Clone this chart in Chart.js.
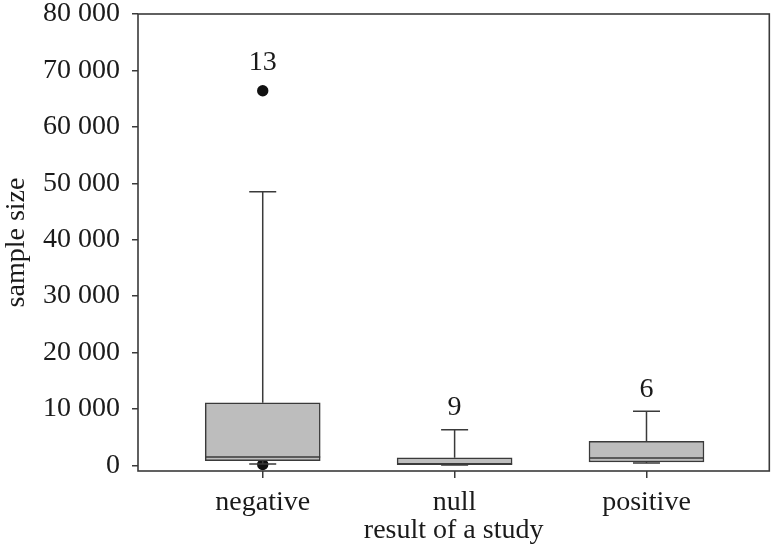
<!DOCTYPE html>
<html>
<head>
<meta charset="utf-8">
<script src="https://cdn.jsdelivr.net/npm/chart.js@4.4.1/dist/chart.umd.min.js"></script>
<style>
  html, body { margin: 0; padding: 0; background: #fff; }
  #wrap { width: 775px; height: 554px; }
</style>
</head>
<body>
<div id="wrap"><canvas id="chart"></canvas></div>
<script>
const categories = ['negative', 'null', 'positive']
const whiskerLow = [250, 60, 410]
const q1 = [830, 120, 590]
const median = [1470, 300, 1300]
const q3 = [11100, 1330, 4260]
const whiskerHigh = [48500, 6330, 9580]
const outliers = [[150, 66400], [], []]
const counts = ['13', '9', '6']
const yTicks = [0, 10000, 20000, 30000, 40000, 50000, 60000, 70000, 80000]

const lineColor = '#3a3a3a'
const capHalf = 13.5
const dotRadius = 5.7

Chart.defaults.font.family = '"Liberation Serif", "DejaVu Serif", serif'
Chart.defaults.color = '#1a1a1a'

const fmt = v => String(v).replace(/\B(?=(\d{3})+(?!\d))/g, ' ')

// whiskers, caps, medians, counts and the frame
const boxExtras = {
  id: 'boxExtras',
  afterDatasetsDraw(chart) {
    const { ctx, chartArea, scales: { x, y } } = chart
    ctx.save()
    ctx.strokeStyle = lineColor
    ctx.lineWidth = 1.5
    categories.forEach((c, i) => {
      const px = x.getPixelForValue(i + 1)
      const half = chart.getDatasetMeta(0).data[i].width / 2
      ctx.beginPath()
      ctx.moveTo(px, y.getPixelForValue(q3[i]))
      ctx.lineTo(px, y.getPixelForValue(whiskerHigh[i]))
      ctx.moveTo(px, y.getPixelForValue(q1[i]))
      ctx.lineTo(px, y.getPixelForValue(whiskerLow[i]))
      ctx.moveTo(px - capHalf, y.getPixelForValue(whiskerHigh[i]))
      ctx.lineTo(px + capHalf, y.getPixelForValue(whiskerHigh[i]))
      ctx.moveTo(px - capHalf, y.getPixelForValue(whiskerLow[i]))
      ctx.lineTo(px + capHalf, y.getPixelForValue(whiskerLow[i]))
      ctx.moveTo(px - half, y.getPixelForValue(median[i]))
      ctx.lineTo(px + half, y.getPixelForValue(median[i]))
      ctx.stroke()

      let top = y.getPixelForValue(whiskerHigh[i])
      if (outliers[i].length) {
        top = Math.min(top, y.getPixelForValue(Math.max(...outliers[i])) - dotRadius)
      }
      ctx.fillStyle = '#1a1a1a'
      ctx.font = '28px "Liberation Serif", serif'
      ctx.textAlign = 'center'
      ctx.textBaseline = 'middle'
      ctx.fillText(counts[i], px, top - 22)
    })
    ctx.lineWidth = 1.6
    ctx.strokeRect(chartArea.left, chartArea.top, chartArea.right - chartArea.left, chartArea.bottom - chartArea.top)
    ctx.restore()
  }
}

const outlierPoints = []
outliers.forEach((list, i) => list.forEach(v => outlierPoints.push({ x: i + 1, y: v })))

new Chart(document.getElementById('chart'), {
  type: 'bar',
  data: {
    datasets: [{
      data: categories.map((c, i) => ({ x: i + 1, y: [q1[i], q3[i]] })),
      backgroundColor: '#bdbdbd',
      borderColor: lineColor,
      borderWidth: 1.5,
      borderSkipped: false,
      barThickness: 115
    }, {
      type: 'scatter',
      data: outlierPoints,
      pointRadius: dotRadius,
      pointBackgroundColor: '#111',
      pointBorderWidth: 0
    }]
  },
  options: {
    responsive: true,
    maintainAspectRatio: false,
    animation: false,
    layout: { padding: { top: 14, right: 4, left: 0, bottom: 0 } },
    plugins: {
      legend: { display: false },
      tooltip: { enabled: false }
    },
    scales: {
      x: {
        type: 'linear',
        min: 0.35,
        max: 3.64,
        offset: false,
        afterBuildTicks: s => { s.ticks = categories.map((c, i) => ({ value: i + 1 })) },
        afterFit: s => { s.height = 83; s.paddingLeft = 0; s.paddingRight = 0 },
        ticks: {
          callback: v => categories[v - 1],
          font: { size: 28, lineHeight: 1 },
          padding: 11,
          maxRotation: 0,
          autoSkip: false
        },
        grid: { offset: false, drawOnChartArea: false, drawTicks: true, tickLength: 7, color: lineColor, lineWidth: 1.5 },
        border: { display: false },
        title: { display: true, text: 'result of a study', font: { size: 28, lineHeight: 1.2 }, padding: { top: 0, bottom: 7 } }
      },
      y: {
        min: -1000,
        max: 80000,
        afterBuildTicks: s => { s.ticks = yTicks.map(v => ({ value: v })) },
        afterFit: s => { s.width = 138; s.paddingTop = 0; s.paddingBottom = 0 },
        ticks: {
          callback: v => fmt(v),
          font: { size: 28, lineHeight: 1 },
          padding: 12
        },
        grid: { drawOnChartArea: false, drawTicks: true, tickLength: 6, color: lineColor, lineWidth: 1.5 },
        border: { display: false },
        title: { display: true, text: 'sample size', font: { size: 28, lineHeight: 1.2 }, padding: { top: 0, bottom: 0 } }
      }
    }
  },
  plugins: [boxExtras]
})
</script>
</body>
</html>
